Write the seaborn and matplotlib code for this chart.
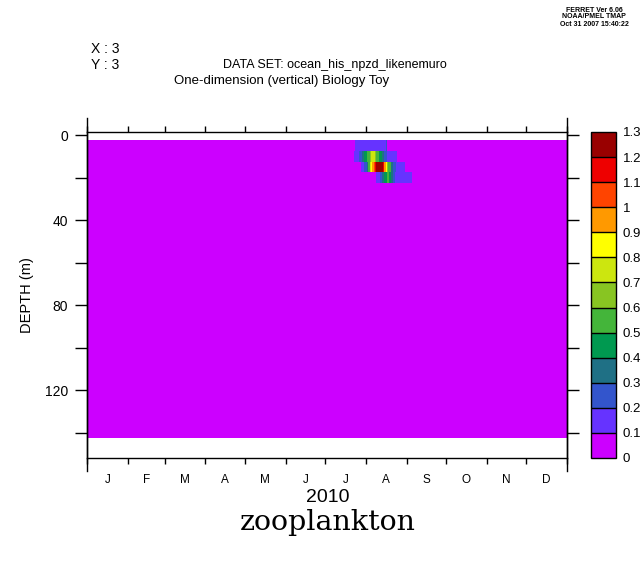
import numpy as np
import pandas as pd
import matplotlib
matplotlib.use("Agg")
import matplotlib.pyplot as plt
import matplotlib.cm as cm
from matplotlib.colors import ListedColormap, BoundaryNorm
import seaborn as sns

plt.rcParams['font.family'] = ['Liberation Sans', 'DejaVu Sans']

# ---------------- data ----------------
depths = list(range(5, 145, 5))           # layer centres (m)
n_days = 365                               # daily columns, 2010
levels = [0.0, 0.1, 0.2, 0.3, 0.4, 0.5, 0.6, 0.7, 0.8, 0.9, 1.0, 1.1, 1.2, 1.3]
level_labels = ["0", "0.1", "0.2", "0.3", "0.4", "0.5", "0.6", "0.7", "0.8",
                "0.9", "1", "1.1", "1.2", "1.3"]
level_colors = ["#cc00ff", "#6633ff", "#3355cc", "#1f7085", "#009950",
                "#44b53a", "#88c522", "#cce60f", "#ffff00", "#ff9900",
                "#ff4400", "#ee0000", "#990000"]
month_starts = [0, 31, 59, 90, 120, 151, 181, 212, 243, 273, 304, 334, 365]
month_letters = ["J", "F", "M", "A", "M", "J", "J", "A", "S", "O", "N", "D"]
depth_ticks = [0, 20, 40, 60, 80, 100, 120, 140]
depth_labels = [0, 40, 80, 120]

# zooplankton bloom segments (depth, first day, end day, value)
seg_depth = [5, 5,
             10, 10, 10, 10, 10, 10, 10, 10, 10, 10, 10, 10, 10,
             15, 15, 15, 15, 15, 15, 15, 15, 15, 15, 15, 15, 15, 15, 15, 15, 15, 15,
             20, 20, 20, 20, 20, 20, 20, 20, 20]
seg_day0 = [204, 227,
            203, 207, 209, 211, 213, 215, 216, 219, 220, 222, 224, 226, 228,
            208, 211, 213, 214, 215, 216, 217, 218, 219, 220, 225, 226, 227, 228, 229, 231, 233, 235,
            220, 223, 224, 226, 228, 230, 231, 233, 234]
seg_day1 = [227, 228,
            207, 209, 211, 213, 215, 216, 219, 220, 222, 224, 226, 228, 236,
            211, 213, 214, 215, 216, 217, 218, 219, 220, 225, 226, 227, 228, 229, 231, 233, 235, 242,
            223, 224, 226, 228, 230, 231, 233, 234, 247]
seg_value = [0.15, 0.25,
             0.15, 0.25, 0.35, 0.45, 0.55, 0.65, 0.75, 0.65, 0.55, 0.45, 0.35, 0.25, 0.15,
             0.15, 0.25, 0.35, 0.55, 0.75, 0.85, 0.95, 1.05, 1.15, 1.25, 1.15, 0.95, 0.85, 0.65, 0.55, 0.35, 0.25, 0.15,
             0.15, 0.25, 0.35, 0.45, 0.55, 0.45, 0.35, 0.25, 0.15]

grid = np.zeros((len(depths), n_days))
for d, a, b, v in zip(seg_depth, seg_day0, seg_day1, seg_value):
    grid[depths.index(d), a:b] = v
df = pd.DataFrame(grid, index=depths, columns=range(n_days))

# ---------------- figure ----------------
W, H = 641, 564
fig = plt.figure(figsize=(W / 100, H / 100), dpi=100)
fig.patch.set_facecolor("white")

ax_l, ax_r, ax_t, ax_b = 87, 567, 131.5, 458.3
ax = fig.add_axes([ax_l / W, 1 - ax_b / H, (ax_r - ax_l) / W, (ax_b - ax_t) / H])

cmap = ListedColormap(level_colors)
norm = BoundaryNorm(levels, cmap.N)
sns.heatmap(df, ax=ax, cmap=cmap, norm=norm, cbar=False,
            xticklabels=False, yticklabels=False)

def d2i(d):
    return (d - 2.5) / 5.0

ax.set_xlim(0, n_days)
ax.set_ylim(d2i(152.1), d2i(-1.65))
for s in ax.spines.values():
    s.set_visible(True)
    s.set_color("black")
    s.set_linewidth(1.0)

# x axis: month boundaries as ticks, letters mid-month
ax.set_xticks(month_starts)
ax.set_xticklabels([])
mids = [(a + b) / 2 for a, b in zip(month_starts[:-1], month_starts[1:])]
ax.set_xticks(mids, minor=True)
ax.set_xticklabels(month_letters, minor=True, fontsize=8.5)
ax.tick_params(axis="x", which="major", direction="out", length=4.5, width=1,
               top=True, bottom=True, labelbottom=False, color="black")
ax.tick_params(axis="x", which="minor", length=0, pad=11, top=False,
               bottom=True, labelbottom=True)

# y axis: depth
ax.set_yticks([d2i(d) for d in depth_ticks])
ax.set_yticklabels([str(d) if d in depth_labels else "" for d in depth_ticks],
                   fontsize=10, rotation=0)
ax.tick_params(axis="y", which="major", direction="out", length=8.6, width=1,
               left=True, right=True, labelleft=True, pad=5, color="black")
ax.set_xlabel("")
ax.set_ylabel("")

# extended vertical axis lines (Ferret style)
for xx in (0, 1):
    ax.plot([xx, xx], [-0.038, 1.04], transform=ax.transAxes, clip_on=False,
            color="black", lw=1)

# colour bar
cax = fig.add_axes([591 / W, 1 - 458 / H, 25 / W, 326 / H])
cb = fig.colorbar(cm.ScalarMappable(norm=norm, cmap=cmap), cax=cax,
                  ticks=levels, drawedges=True)
cb.ax.set_yticklabels(level_labels)
cb.ax.tick_params(length=0, pad=5, labelsize=9.5)
cb.outline.set_linewidth(1)
cb.outline.set_edgecolor("black")
cb.dividers.set_linewidth(1)
cb.dividers.set_color("black")

# texts
def ftext(x, y, s, **kw):
    fig.text(x / W, 1 - y / H, s, **kw)

ftext(27, 295, "DEPTH (m)", rotation=90, ha="center", va="center", fontsize=10.5)
ftext(328, 497, "2010", ha="center", va="center", fontsize=14)
ftext(328, 523, "zooplankton", ha="center", va="center", fontsize=20.5,
      family="DejaVu Serif")
ftext(91, 49, "X : 3", ha="left", va="center", fontsize=10)
ftext(91, 65, "Y : 3", ha="left", va="center", fontsize=10)
ftext(223, 65, "DATA SET: ocean_his_npzd_likenemuro", ha="left", va="center",
      fontsize=9)
ftext(282, 81, "One-dimension (vertical) Biology Toy", ha="center",
      va="center", fontsize=9.5)
ftext(594, 10, "FERRET Ver 6.06", ha="center", va="center", fontsize=5,
      fontweight="bold")
ftext(594, 17, "NOAA/PMEL TMAP", ha="center", va="center", fontsize=5,
      fontweight="bold")
ftext(594, 24, "Oct 31 2007 15:40:22", ha="center", va="center", fontsize=5,
      fontweight="bold")

fig.savefig("out.png", dpi=100, facecolor="white")
